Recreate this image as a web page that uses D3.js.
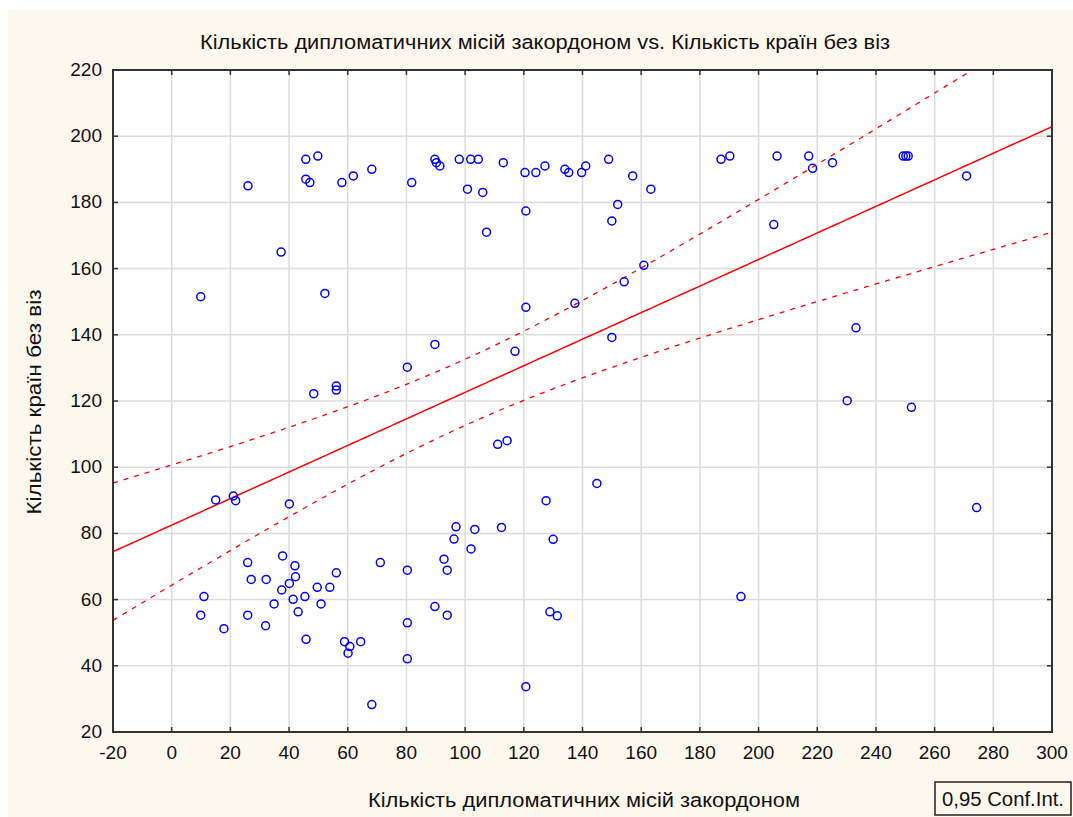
<!DOCTYPE html>
<html>
<head>
<meta charset="utf-8">
<script src="https://cdn.jsdelivr.net/npm/d3@7"></script>
<style>
  body { margin: 0; background: #fff; }
  text { font-family: "Liberation Sans", Arial, sans-serif; fill: #111; }
</style>
</head>
<body>
<svg id="chart" width="1073" height="817"></svg>
<script>
// diplomatic missions abroad (x) vs visa-free countries (y)
const missions = [
  26, 45.7, 49.8, 45.7, 47.1, 58, 61.9, 68.2, 81.8, 37.3, 52.2, 9.9,
  89.7, 90.2, 91.4, 98, 101.9, 104.5, 113, 120.4, 124.1, 127.2, 134, 135.3,
  139.7, 141.1, 148.9, 157.1, 163.3, 100.8, 106, 107.3, 120.7, 152, 150, 160.9,
  154.2, 137.4, 187.2, 190.2, 206.3, 205.2, 217.1, 218.4, 225.2, 249.3, 250.2, 251,
  270.9, 80.3, 48.4, 56.1, 56.1, 15, 21, 21.8, 40.1, 89.7, 120.7, 117,
  150, 111.1, 114.3, 144.9, 127.6, 233.2, 230.2, 252.1, 274.3, 37.8, 25.9, 42,
  42.2, 27.1, 32.2, 40.1, 37.5, 41.4, 45.4, 34.9, 43.1, 49.6, 53.9, 56.1,
  50.9, 71.1, 80.3, 11, 9.9, 17.8, 25.9, 32, 45.8, 58.9, 64.4, 60.7,
  60.1, 80.3, 80.3, 68.2, 89.7, 96.9, 96.2, 103.3, 112.4, 102, 92.8, 93.9,
  93.9, 130, 128.9, 131.4, 120.7, 194
];
const visaFree = [
  185, 193, 194, 187, 186, 186, 188, 190, 186, 165, 152.5, 151.5,
  193, 192, 191, 193, 193, 193, 192, 189, 189, 191, 190, 189,
  189, 191, 193, 188, 184, 184, 183, 171, 177.4, 179.4, 174.4, 161,
  156, 149.5, 193, 194, 194, 173.3, 194, 190.3, 192, 194, 194, 194,
  188, 130.2, 122.2, 124.5, 123.3, 90.1, 91.3, 89.9, 88.9, 137.1, 148.3, 135,
  139.2, 106.9, 108, 95.1, 89.9, 142.1, 120.1, 118.1, 87.8, 73.2, 71.2, 70.2,
  66.9, 66.1, 66.1, 64.9, 62.9, 60.1, 60.9, 58.7, 56.3, 63.7, 63.7, 68.1,
  58.7, 71.2, 68.9, 60.9, 55.3, 51.2, 55.3, 52.1, 48, 47.3, 47.3, 45.8,
  43.8, 53, 42.1, 28.3, 57.9, 82, 78.3, 81.2, 81.8, 75.3, 72.2, 68.9,
  55.3, 78.2, 56.3, 55.1, 33.7, 60.9
];

// linear fit and 0.95 confidence band
const fitIntercept = 82.5;
const fitSlope = 0.40125;
const bandMeanX = 100;
const bandVar0 = 100;
const bandVarSlope = 0.02294;

const xTicks = d3.range(-20, 301, 20);
const yTicks = d3.range(20, 221, 20);

const titleText = "Кількість дипломатичних місій закордоном vs. Кількість країн без віз";
const xLabel = "Кількість дипломатичних місій закордоном";
const yLabel = "Кількість країн без віз";
const legendText = "0,95 Conf.Int.";

const svg = d3.select("#chart");
const margin = { left: 113, top: 70, right: 1052, bottom: 732 };

const x = d3.scaleLinear().domain([-20, 300]).range([margin.left, margin.right]);
const y = d3.scaleLinear().domain([20, 220]).range([margin.bottom, margin.top]);

// cream panel
svg.append("rect")
  .attr("x", 8).attr("y", 10)
  .attr("width", 1065).attr("height", 807)
  .attr("fill", "#fdf8ee");

// plot area
svg.append("rect")
  .attr("x", margin.left).attr("y", margin.top)
  .attr("width", margin.right - margin.left)
  .attr("height", margin.bottom - margin.top)
  .attr("fill", "#fff");

// grid
const grid = svg.append("g").attr("stroke", "#dcdcdc").attr("stroke-width", 1.5);
grid.selectAll(".gx").data(xTicks.slice(1, -1)).enter().append("line")
  .attr("x1", (d) => x(d)).attr("x2", (d) => x(d))
  .attr("y1", margin.top).attr("y2", margin.bottom);
grid.selectAll(".gy").data(yTicks.slice(1, -1)).enter().append("line")
  .attr("y1", (d) => y(d)).attr("y2", (d) => y(d))
  .attr("x1", margin.left).attr("x2", margin.right);

// clip for fit lines
svg.append("clipPath").attr("id", "plotClip")
  .append("rect")
  .attr("x", margin.left).attr("y", margin.top)
  .attr("width", margin.right - margin.left)
  .attr("height", margin.bottom - margin.top);

const xs = d3.range(-20, 300.5, 2);
const fit = (v) => fitIntercept + fitSlope * v;
const halfBand = (v) => Math.sqrt(bandVar0 + bandVarSlope * (v - bandMeanX) ** 2);

const line = d3.line().x((d) => x(d[0])).y((d) => y(d[1]));
const fitG = svg.append("g").attr("clip-path", "url(#plotClip)")
  .attr("fill", "none").attr("stroke", "#ff0000");

fitG.append("path")
  .attr("d", line(xs.map((v) => [v, fit(v)])))
  .attr("stroke-width", 1.5);
fitG.append("path")
  .attr("d", line(xs.map((v) => [v, fit(v) + halfBand(v)])))
  .attr("stroke-width", 1.3).attr("stroke-dasharray", "5,6");
fitG.append("path")
  .attr("d", line(xs.map((v) => [v, fit(v) - halfBand(v)])))
  .attr("stroke-width", 1.3).attr("stroke-dasharray", "5,6");

// points
svg.append("g").selectAll("circle")
  .data(missions.map((m, i) => [m, visaFree[i]]))
  .enter().append("circle")
  .attr("cx", (d) => x(d[0]))
  .attr("cy", (d) => y(d[1]))
  .attr("r", 4)
  .attr("fill", "none")
  .attr("stroke", "#0000ff")
  .attr("stroke-width", 1.5);

// frame + inward ticks
const tickLen = 5;
const ticks = svg.append("g").attr("stroke", "#333").attr("stroke-width", 1.5);
xTicks.slice(1, -1).forEach((t) => {
  ticks.append("line").attr("x1", x(t)).attr("x2", x(t))
    .attr("y1", margin.bottom).attr("y2", margin.bottom - tickLen);
  ticks.append("line").attr("x1", x(t)).attr("x2", x(t))
    .attr("y1", margin.top).attr("y2", margin.top + tickLen);
});
yTicks.slice(1, -1).forEach((t) => {
  ticks.append("line").attr("y1", y(t)).attr("y2", y(t))
    .attr("x1", margin.left).attr("x2", margin.left + tickLen);
  ticks.append("line").attr("y1", y(t)).attr("y2", y(t))
    .attr("x1", margin.right).attr("x2", margin.right - tickLen);
});
svg.append("rect")
  .attr("x", margin.left).attr("y", margin.top)
  .attr("width", margin.right - margin.left)
  .attr("height", margin.bottom - margin.top)
  .attr("fill", "none").attr("stroke", "#333").attr("stroke-width", 2);

// tick labels
svg.append("g").selectAll("text").data(xTicks).enter().append("text")
  .attr("x", (d) => x(d)).attr("y", 759)
  .attr("text-anchor", "middle")
  .style("font-size", "19px")
  .text((d) => d);
svg.append("g").selectAll("text").data(yTicks).enter().append("text")
  .attr("x", 102).attr("y", (d) => y(d) + 6)
  .attr("text-anchor", "end")
  .style("font-size", "19px")
  .text((d) => d);

// titles
svg.append("text")
  .attr("x", 545).attr("y", 49)
  .attr("text-anchor", "middle")
  .attr("textLength", 690).attr("lengthAdjust", "spacingAndGlyphs")
  .style("font-size", "20px")
  .text(titleText);
svg.append("text")
  .attr("x", 584).attr("y", 807)
  .attr("text-anchor", "middle")
  .attr("textLength", 432).attr("lengthAdjust", "spacingAndGlyphs")
  .style("font-size", "20px")
  .text(xLabel);
svg.append("text")
  .attr("transform", "translate(41,402) rotate(-90)")
  .attr("text-anchor", "middle")
  .attr("textLength", 225).attr("lengthAdjust", "spacingAndGlyphs")
  .style("font-size", "20px")
  .text(yLabel);

// legend box
svg.append("rect")
  .attr("x", 935).attr("y", 782)
  .attr("width", 136).attr("height", 33)
  .attr("fill", "#fdf8ee").attr("stroke", "#222").attr("stroke-width", 1.5);
svg.append("text")
  .attr("x", 942).attr("y", 806)
  .attr("textLength", 122).attr("lengthAdjust", "spacingAndGlyphs")
  .style("font-size", "20px")
  .text(legendText);
</script>
</body>
</html>
